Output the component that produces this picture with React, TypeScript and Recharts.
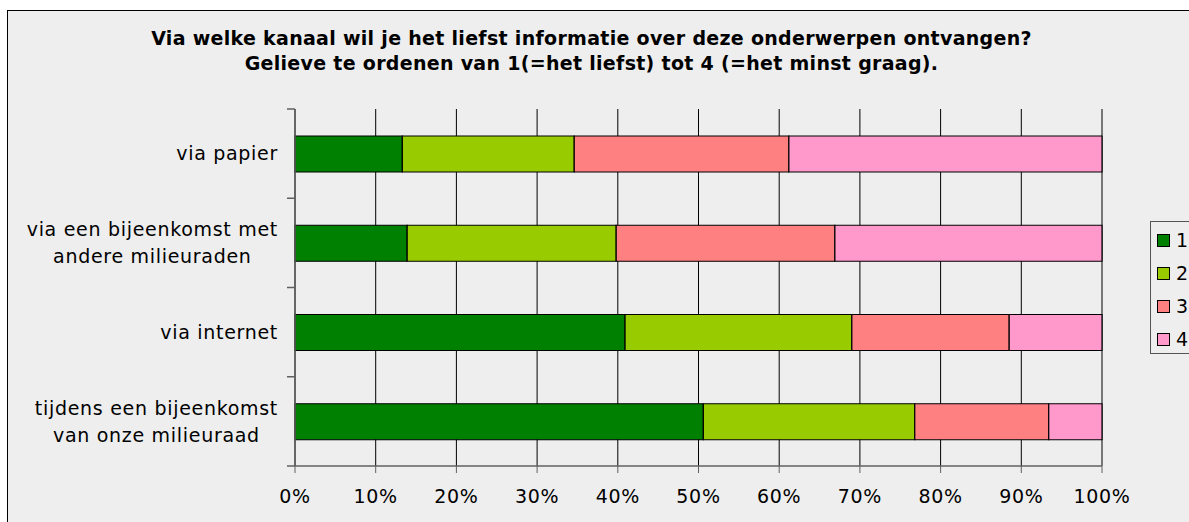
import { BarChart, Bar, XAxis, YAxis, CartesianGrid } from 'recharts'

const CATEGORIES = [
  'via papier',
  'via een bijeenkomst met andere milieuraden',
  'via internet',
  'tijdens een bijeenkomst van onze milieuraad',
]
const RANK_1 = [13.3, 13.9, 40.9, 50.6]
const RANK_2 = [21.3, 25.9, 28.1, 26.2]
const RANK_3 = [26.6, 27.1, 19.5, 16.6]
const RANK_4 = [38.8, 33.1, 11.5, 6.6]
const X_TICKS = [0, 0.1, 0.2, 0.3, 0.4, 0.5, 0.6, 0.7, 0.8, 0.9, 1]
const TITLE = [
  'Via welke kanaal wil je het liefst informatie over deze onderwerpen ontvangen?',
  'Gelieve te ordenen van 1(=het liefst) tot 4 (=het minst graag).',
]

const SERIES = [
  { key: 'r1', name: '1', color: '#008000' },
  { key: 'r2', name: '2', color: '#99cc00' },
  { key: 'r3', name: '3', color: '#ff8080' },
  { key: 'r4', name: '4', color: '#ff99cc' },
]

const data = CATEGORIES.map((c, i) => ({
  name: c,
  r1: RANK_1[i],
  r2: RANK_2[i],
  r3: RANK_3[i],
  r4: RANK_4[i],
}))

const FONT = '"DejaVu Sans", Verdana, sans-serif'
const FS = 19
const LS = 0.7
const W = 1189
const H = 522
const X_H = 56
const M = { top: 109, right: 87, bottom: 0, left: 0 }
const Y_W = 295
const BAND = (H - M.top - X_H) / CATEGORIES.length

let ctx: CanvasRenderingContext2D | null = null
function measure(s: string) {
  if (!ctx) {
    ctx = document.createElement('canvas').getContext('2d')
    if (ctx) ctx.font = `${FS}px "DejaVu Sans"`
  }
  const base = ctx ? ctx.measureText(s).width : s.length * FS * 0.6
  return base + s.length * LS
}

function wrap(label: string, max: number) {
  const words = label.split(' ')
  const lines: string[] = []
  let cur = ''
  for (const w of words) {
    const t = cur ? cur + ' ' + w : w
    if (cur && measure(t) > max) {
      lines.push(cur)
      cur = w
    } else cur = t
  }
  if (cur) lines.push(cur)
  return lines
}

function CatTick(props: any) {
  const { y, payload, index } = props
  const lines = wrap(String(payload.value), 262)
  const blockW = Math.max(...lines.map(measure))
  const right = Y_W - 17
  const cx = right - blockW / 2
  const lh = 27
  const y0 = y - ((lines.length - 1) * lh) / 2
  return (
    <g>
      <line x1={Y_W - 8} x2={Y_W} y1={y - BAND / 2} y2={y - BAND / 2} stroke="#606060" strokeWidth={1.5} />
      {index === CATEGORIES.length - 1 && (
        <line x1={Y_W - 8} x2={Y_W} y1={y + BAND / 2} y2={y + BAND / 2} stroke="#606060" strokeWidth={1.5} />
      )}
      <text textAnchor="middle" fontFamily={FONT} fontSize={FS} fill="#000" letterSpacing={LS}>
        {lines.map((l, i) => (
          <tspan key={i} x={cx} y={y0 + i * lh} dy="0.35em">
            {l}
          </tspan>
        ))}
      </text>
    </g>
  )
}

export default function App() {
  return (
    <div style={{ position: 'absolute', left: 0, top: 0, width: W, height: H, overflow: 'hidden', background: '#fff' }}>
      <div
        style={{
          position: 'absolute',
          left: 7,
          top: 10,
          width: 1200,
          height: 530,
          border: '1px solid #000',
          background: '#eeeeee',
        }}
      />
      <div
        style={{
          position: 'absolute',
          left: 0,
          top: 26,
          width: W - 6,
          textAlign: 'center',
          fontFamily: FONT,
          fontWeight: 'bold',
          fontSize: 19,
          letterSpacing: 0.3,
          lineHeight: '25px',
          color: '#000',
        }}
      >
        {TITLE.map((t, i) => (
          <div key={i}>{t}</div>
        ))}
      </div>
      <div style={{ position: 'absolute', left: 0, top: 0 }}>
        <BarChart
          width={W}
          height={H}
          data={data}
          layout="vertical"
          stackOffset="expand"
          margin={M}
          barSize={36}
        >
          <CartesianGrid horizontal={false} vertical stroke="#000" strokeOpacity={1} />
          <XAxis
            type="number"
            domain={[0, 1]}
            ticks={X_TICKS}
            interval={0}
            height={X_H}
            tickFormatter={(v: number) => `${Math.round(v * 100)}%`}
            axisLine={{ stroke: '#606060', strokeWidth: 1.5 }}
            tickLine={{ stroke: '#606060' }}
            tickSize={7}
            tickMargin={17}
            tick={{ fontFamily: FONT, fontSize: FS, fill: '#000', letterSpacing: LS }}
          />
          <YAxis
            type="category"
            dataKey="name"
            width={Y_W}
            axisLine={{ stroke: '#606060', strokeWidth: 1.5 }}
            tickLine={false}
            tick={<CatTick />}
            interval={0}
          />
          {SERIES.map((s) => (
            <Bar
              key={s.key}
              dataKey={s.key}
              name={s.name}
              stackId="a"
              fill={s.color}
              stroke="#000"
              strokeWidth={1.2}
              isAnimationActive={false}
            />
          ))}
        </BarChart>
      </div>
      <div
        style={{
          position: 'absolute',
          left: 1150,
          top: 221,
          width: 60,
          height: 131,
          border: '1px solid #555',
          background: '#eeeeee',
          fontFamily: FONT,
          fontSize: FS,
        }}
      >
        {SERIES.map((s, i) => (
          <div
            key={s.key}
            style={{ position: 'absolute', left: 6, top: 6 + i * 33, height: 24, display: 'flex', alignItems: 'center' }}
          >
            <span
              style={{
                display: 'inline-block',
                width: 11,
                height: 11,
                background: s.color,
                border: '1px solid #000',
                marginRight: 6,
              }}
            />
            <span>{s.name}</span>
          </div>
        ))}
      </div>
    </div>
  )
}
